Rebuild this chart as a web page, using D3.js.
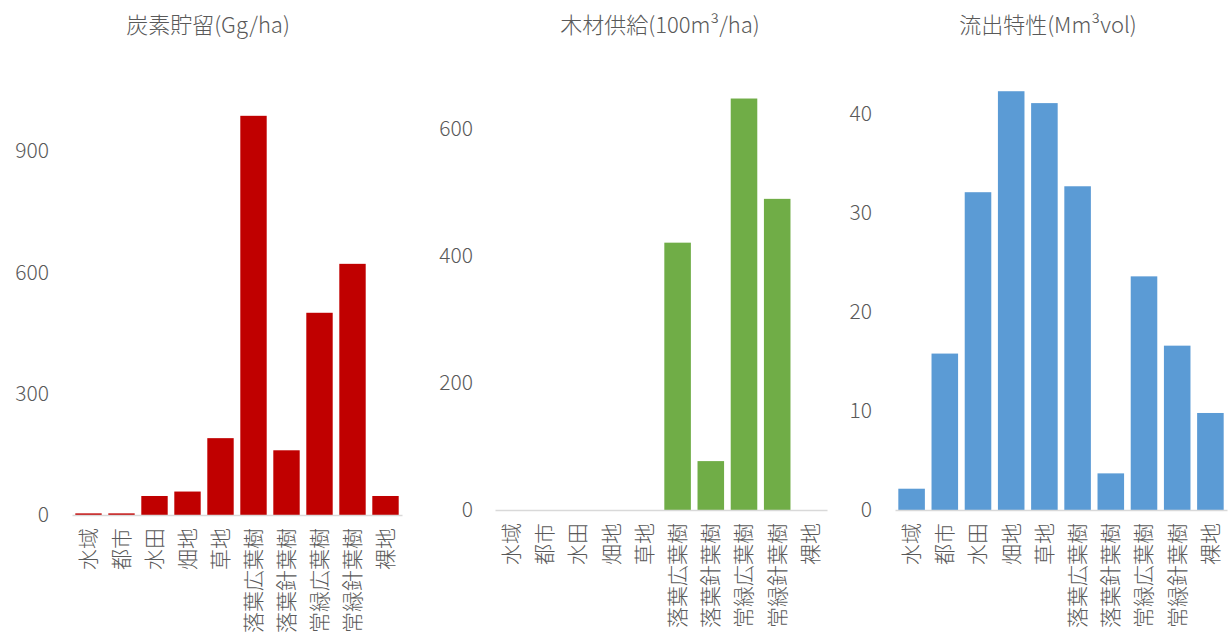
<!DOCTYPE html>
<html>
<head>
<meta charset="utf-8">
<script src="https://cdn.jsdelivr.net/npm/d3@7"></script>
<style>
  html, body { margin: 0; padding: 0; background: #ffffff; }
  svg { display: block; }
</style>
</head>
<body>
<svg id="chart" width="1230" height="636"></svg>
<script>
const categories = ["水域", "都市", "水田", "畑地", "草地", "落葉広葉樹", "落葉針葉樹", "常緑広葉樹", "常緑針葉樹", "裸地"];
const carbonValues = [4, 4, 47, 58, 190, 987, 160, 500, 621, 47];
const timberValues = [0, 0, 0, 0, 0, 421, 77, 648, 490, 0];
const runoffValues = [2.15, 15.8, 32.1, 42.3, 41.1, 32.7, 3.7, 23.6, 16.6, 9.8];
const carbonTicks = [0, 300, 600, 900];
const timberTicks = [0, 200, 400, 600];
const runoffTicks = [0, 10, 20, 30, 40];
const titles = ["炭素貯留(Gg/ha)", "木材供給(100m³/ha)", "流出特性(Mm³vol)"];

const svg = d3.select("#chart");
const FONT = "'Noto Sans CJK JP', 'Noto Sans', sans-serif";
const TEXT = "#595959";

const panels = [
  { values: carbonValues, ticks: carbonTicks, title: titles[0], color: "#C00000",
    x0: 72, x1: 402, yBase: 515, yTopVal: 900, yTop: 151, labelRight: 49, titleX: 208 },
  { values: timberValues, ticks: timberTicks, title: titles[1], color: "#70AD47",
    x0: 495, x1: 827, yBase: 510, yTopVal: 600, yTop: 129, labelRight: 473, titleX: 660 },
  { values: runoffValues, ticks: runoffTicks, title: titles[2], color: "#5B9BD5",
    x0: 895, x1: 1227, yBase: 510, yTopVal: 40, yTop: 114, labelRight: 872, titleX: 1048 }
];

panels.forEach(p => {
  const g = svg.append("g");
  const x = d3.scaleBand().domain(categories).range([p.x0, p.x1]).paddingInner(0.2).paddingOuter(0.1);
  const y = d3.scaleLinear().domain([0, p.yTopVal]).range([p.yBase, p.yTop]);

  // title
  g.append("text")
    .attr("x", p.titleX).attr("y", 33)
    .attr("text-anchor", "middle")
    .attr("font-family", FONT).attr("font-size", 22).attr("font-weight", 300)
    .attr("fill", TEXT)
    .text(p.title);

  // bars
  g.selectAll("rect.bar").data(p.values.map((v, i) => ({ c: categories[i], v })))
    .join("rect")
    .attr("class", "bar")
    .attr("x", d => x(d.c))
    .attr("width", x.bandwidth())
    .attr("y", d => y(d.v))
    .attr("height", d => y(0) - y(d.v))
    .attr("fill", p.color);

  // y axis (labels only)
  const yAxis = d3.axisLeft(y).tickValues(p.ticks).tickSize(0).tickPadding(0).tickFormat(d3.format("d"));
  const ya = g.append("g").attr("transform", `translate(${p.labelRight},0)`).call(yAxis);
  ya.select(".domain").remove();
  ya.selectAll("text").attr("font-family", FONT).attr("font-size", 21).attr("font-weight", 300).attr("fill", TEXT);

  // x axis
  const xAxis = d3.axisBottom(x).tickSize(0).tickPadding(0);
  const xa = g.append("g").attr("transform", `translate(0,${p.yBase})`).call(xAxis);
  xa.select(".domain").attr("stroke", "#d9d9d9").attr("stroke-width", 1.5);
  xa.selectAll(".tick text")
    .attr("font-family", FONT).attr("font-size", 21).attr("font-weight", 300).attr("fill", TEXT)
    .attr("text-anchor", "end")
    .attr("transform", "rotate(-90)")
    .attr("x", -13).attr("y", 0).attr("dy", "0.35em");
});
</script>
</body>
</html>
